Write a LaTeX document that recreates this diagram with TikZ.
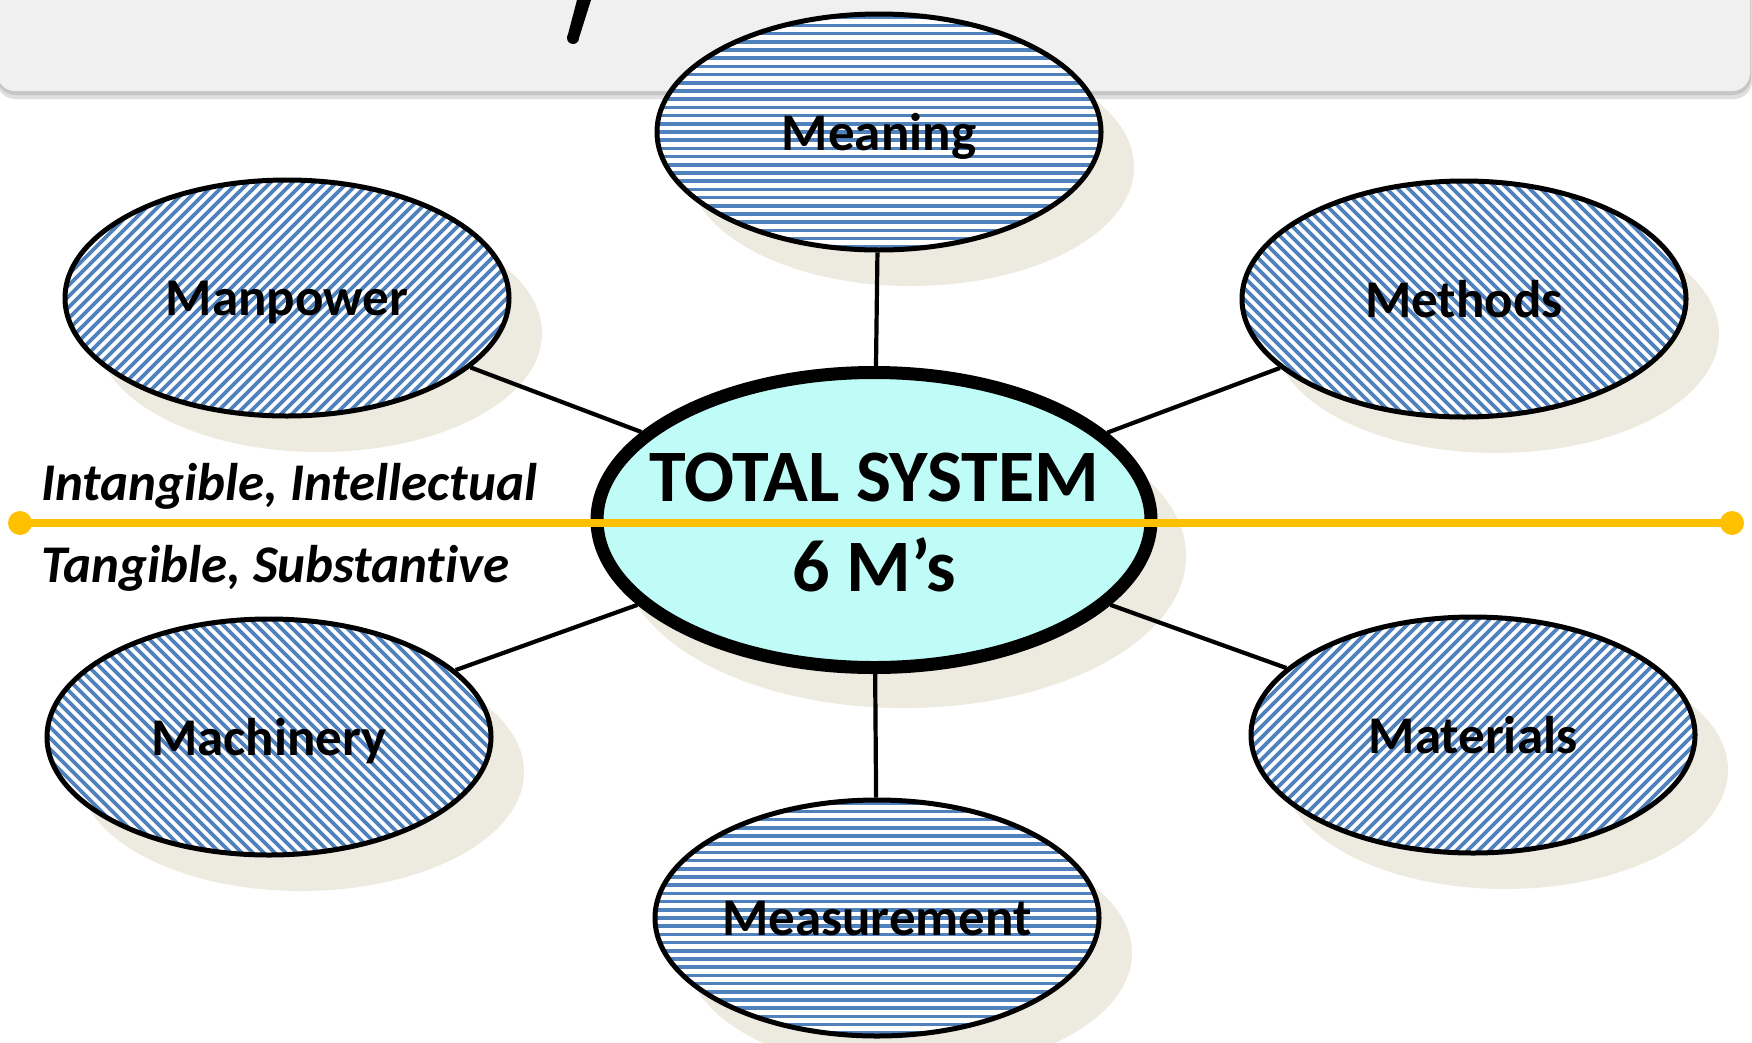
\documentclass[tikz,border=0pt]{standalone}
\usepackage{fontspec}
\setmainfont{Carlito}[Ligatures=NoCommon]
\usetikzlibrary{shapes.geometric}
\definecolor{stripeblue}{HTML}{4F81BD}
\definecolor{shadowtan}{HTML}{EDEBE0}
\definecolor{barfill}{HTML}{F0F0F0}
\definecolor{corecyan}{HTML}{BFFCF8}
\definecolor{axisgold}{HTML}{FFC000}

\begin{document}
\begin{tikzpicture}[x=1pt,y=-1pt,
  bubble/.style={ellipse, draw=black, line width=5pt, fill=white,
    minimum width=444pt, minimum height=236pt, inner sep=0pt, text depth=0pt,
    font=\fontsize{53}{60}\selectfont\bfseries},
  stripe/.style={draw=stripeblue, line width=3.6pt},
  hstripes/.style={path picture={\foreach \k in {-16,...,16}
      \draw[stripe] ([xshift=-260pt, yshift=\k*8.2pt]path picture bounding box.center)
                 -- ([xshift=260pt, yshift=\k*8.2pt]path picture bounding box.center);}},
  upstripes/.style={path picture={\foreach \d in {-352,-341,...,352}
      \draw[stripe] ([xshift={(\d-140)*1pt}, yshift=-140pt]path picture bounding box.center)
                 -- ([xshift={(\d+140)*1pt}, yshift=140pt]path picture bounding box.center);}},
  downstripes/.style={path picture={\foreach \d in {-352,-341,...,352}
      \draw[stripe] ([xshift={(\d-140)*1pt}, yshift=140pt]path picture bounding box.center)
                 -- ([xshift={(\d+140)*1pt}, yshift=-140pt]path picture bounding box.center);}},
  shade/.style={fill=shadowtan},
  link/.style={draw=black, line width=4.2pt},
  side/.style={anchor=west, inner sep=0pt,
    font=\fontsize{53}{60}\selectfont\bfseries\itshape},
]
\useasboundingbox (0,0) rectangle (1752,1042);
\fill[white] (0,0) rectangle (1752,1042);

% centres of the bubbles
\coordinate (cMeaning)  at (879,132);
\coordinate (cManpower) at (287,298);
\coordinate (cMethods)  at (1464,299);
\coordinate (cMachine)  at (269,737);
\coordinate (cMaterial) at (1473,735);
\coordinate (cMeasure)  at (877,918);
\coordinate (cCore)     at (874,520);

% soft drop shadows
\foreach \c in {cMeaning,cManpower,cMethods,cMachine,cMaterial,cMeasure}
  \fill[shade, shift={(\c)}] (32,35) ellipse [x radius=223pt, y radius=119pt];
\fill[shade, shift={(cCore)}] (30,36) ellipse [x radius=282pt, y radius=152pt];

% title banner
\fill[gray!25, rounded corners=18pt] (-3,-30) rectangle (1752,99);
\fill[gray!45, rounded corners=18pt] (-3,-30) rectangle (1751,95);
\fill[barfill, rounded corners=18pt] (-3,-30) rectangle (1750,91);
\fill[black] (577,0) -- (591,0) -- (579,38) -- (567,38) -- cycle;
\fill[black] (573,38) circle[radius=6pt];

% outer bubbles
\node[bubble, hstripes]    (meaning)  at (cMeaning)  {Meaning};
\node[bubble, upstripes]   (manpower) at (cManpower) {Manpower};
\node[bubble, downstripes] (methods)  at (cMethods)  {Methods};
\node[bubble, downstripes] (machine)  at (cMachine)  {Machinery};
\node[bubble, upstripes]   (material) at (cMaterial) {Materials};
\node[bubble, hstripes]    (measure)  at (cMeasure)  {Measurement};

% central bubble
\node[ellipse, draw=black, line width=13pt, fill=corecyan,
      minimum width=554pt, minimum height=295pt, inner sep=0pt]
      (core) at (cCore) {};
\node[align=center, inner sep=0pt, font=\fontsize{74}{90}\selectfont\bfseries]
      (coretext) at ([yshift=-2pt]core.center) {TOTAL SYSTEM\\6 M’s};

% spokes
\draw[link] (meaning)  -- (core);
\draw[link] (manpower) -- (core);
\draw[link] (methods)  -- (core);
\draw[link] (machine)  -- (core);
\draw[link] (material) -- (core);
\draw[link] (measure)  -- (core);

% dividing axis
\coordinate (axL) at (20,523);
\coordinate (axR) at (1732,523);
\draw[axisgold, line width=7.5pt] (axL) -- (axR);
\fill[axisgold] (axL) circle[radius=12pt];
\fill[axisgold] (axR) circle[radius=12pt];

% side captions
\node[side] (upper) at (41,486) {Intangible, Intellectual};
\node[side] (lower) at (41,568) {Tangible, Substantive};
\end{tikzpicture}
\end{document}
